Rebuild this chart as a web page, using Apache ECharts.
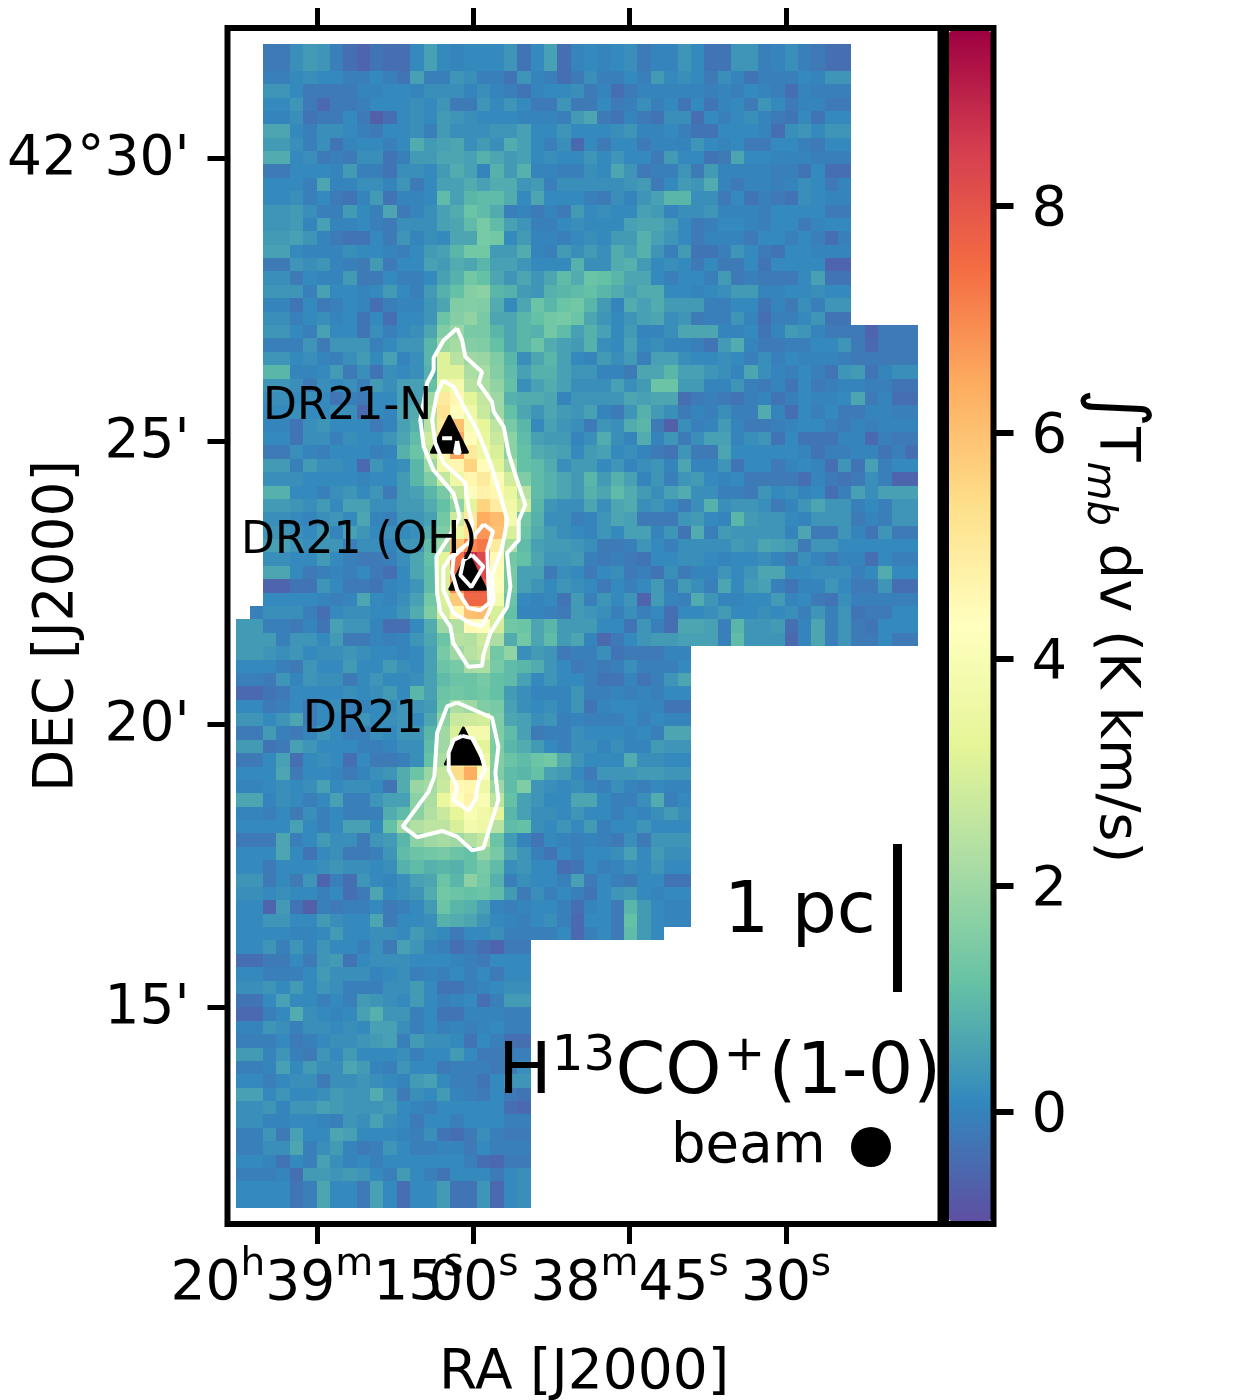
<!DOCTYPE html>
<html>
<head>
<meta charset="utf-8">
<title>H13CO+ map</title>
<script src="https://cdn.jsdelivr.net/npm/echarts@6/dist/echarts.min.js"></script>
<style>
  html, body { margin: 0; background: #fff; }
  #chart { width: 1254px; height: 1400px; }
</style>
</head>
<body>
<div id="chart"></div>
<script>
// integrated intensity, K km/s, read by eye from the map. one list per map row, north to south
const row00 = [-.2,-.2,.2,.4,.3,-.1,-.4,-.6,-.3,-.4, -.4,.1,.5,.1,0,.1,.1,.1,.3,-.3, .1,.5,-.4,0,.1,0,.1,.2,-.2,0, 0,.3,.1,-.3,-.3,.3,.3,-.1,0,.2, -.1,-.2,-.4,-.4];
const row01 = [-.2,-.2,.2,.4,.3,-.1,-.4,-.6,-.3,-.4, -.4,.1,.5,.1,0,.1,.1,.1,.3,-.3, .1,.5,-.4,0,.1,0,.1,.2,-.2,0, 0,.3,.1,-.3,-.3,.3,.3,-.1,0,.2, -.1,-.2,-.4,-.4];
const row02 = [-.1,-.1,.1,.2,.1,.1,-.1,-.1,.1,-.1, -.3,.5,-.1,-.1,.3,.2,-.1,-.1,-.3,.3, 0,-.1,-.4,-.2,.2,-.1,-.1,.1,-.1,.4, .1,.2,.1,-.2,.2,0,-.3,-.1,-.1,-.1, .1,0,.3,.3];
const row03 = [.3,.3,.1,-.2,-.2,-.2,-.2,0,0,.1, .1,0,.2,.2,.2,0,.2,0,-.1,-.3, 0,.1,.1,.2,-.2,0,-.4,-.2,0,0, 0,0,0,-.1,0,-.1,.1,0,-.1,-.4, 0,-.1,-.1,-.1];
const row04 = [.1,.1,.3,-.2,-.5,-.2,-.2,-.1,.1,.1, .1,.2,.1,.3,-.2,-.2,.3,.1,.3,.1, -.2,-.2,.3,-.2,-.2,.1,-.2,-.1,.2,-.1, .1,-.3,.1,-.3,0,.1,-.2,.3,.1,-.2, 0,0,-.2,-.2];
const row05 = [0,0,.2,-.3,-.2,-.2,.1,-.2,-.7,-.4, .1,.2,.1,.4,.3,.2,.1,.1,.1,0, 0,0,-.1,.4,.6,-.2,-.3,0,-.2,-.3, .2,.2,-.4,.1,-.1,.1,.2,0,-.2,-.3, .1,-.3,.1,.1];
const row06 = [.6,.6,.1,-.1,.2,.2,.1,-.1,-.2,.1, .1,.2,-.1,.4,.2,.2,.2,.3,.3,.5, .1,.1,.3,.1,.1,.1,.2,.3,0,0, .1,-.1,-.3,-.3,.1,.1,.1,0,-.4,.2, .3,.1,.3,.3];
const row07 = [.4,.4,.2,-.1,.2,-.3,0,.1,.1,-.1, .1,.7,.4,.5,.6,.2,.4,.2,.7,.5, .1,-.1,.2,-.5,.1,-.2,.1,.1,-.2,0, 0,0,.3,.1,0,.1,-.2,-.2,.1,.1, -.1,-.2,.1,.1];
const row08 = [.7,.7,.1,.2,-.2,-.1,-.2,.2,.2,-.3, -.1,.4,.4,.6,.6,.5,.8,.6,.4,.5, .1,.2,.1,.1,.3,.1,.3,.1,.1,-.2, .4,.1,.1,-.3,-.2,.6,.1,.1,0,0, 0,-.1,-.1,-.1];
const row09 = [-.2,-.2,.1,.1,.1,0,.4,-.1,-.1,-.3, .2,.2,.1,.4,.7,.5,0,.8,.4,.8, 0,0,-.1,-.1,.2,.1,.6,.3,-.2,-.1, -.1,.3,-.2,.4,0,0,0,0,-.1,-.1, -.3,.1,-.4,-.4];
const row10 = [.1,.1,.1,-.1,.6,0,0,.2,.2,0, .3,-.2,.1,.5,.5,.7,.5,.7,.7,.3, .4,-.1,.2,.2,.2,.2,.2,.3,.4,-.2, .1,.4,.3,.7,0,-.2,0,0,-.1,0, .2,.1,-.2,0];
const row11 = [.1,.1,.2,-.1,.1,-.2,-.3,0,.4,-.3, 0,0,.1,1,.5,.9,1,1,.7,.1, .6,.1,.1,.1,-.1,-.2,.2,0,.3,.5, .9,.9,.2,.2,-.2,.1,-.3,-.1,-.2,-.3, .2,.1,0,0];
const row12 = [.3,.3,.4,.2,-.1,-.1,.4,.1,-.1,.6, -.2,0,.2,.5,.7,1.2,1,.7,-.1,0, -.2,0,-.2,.4,.1,.2,.1,.1,.5,.4, 0,.2,.2,.3,0,0,0,-.1,.1,.1, .1,.1,-.2,-.2];
const row13 = [.3,.3,.4,0,.5,0,0,.1,-.1,-.2, .2,.2,.2,.5,.6,1,1.4,1,.5,.3, -.1,-.1,.1,.2,.1,.1,.1,.5,.6,.6, .4,.1,-.2,-.1,.1,.1,0,-.1,.1,.1, -.2,0,.1,.1];
const row14 = [.4,.4,.5,.3,0,-.2,-.3,-.3,.1,-.2, .3,0,.2,.1,.6,.6,1.4,1.3,.1,.4, 0,0,-.1,.1,.2,.1,.4,.4,.8,.5, .3,.1,-.2,0,0,0,-.2,.1,.1,-.1, .1,-.1,-.4,-.1];
const row15 = [.5,.5,.1,0,0,0,.2,.1,.1,0, -.1,.1,.4,.5,.9,1.3,1.3,.4,.4,.7, 0,-.1,.4,.2,.4,.2,.7,.5,.8,.3, -.1,.4,-.3,-.3,-.1,.3,.1,-.2,-.3,.1, .1,0,0,0];
const row16 = [-.2,-.2,.3,.2,.3,0,-.1,-.2,.4,-.2, .1,.1,.5,.4,.7,.6,.9,.5,.5,.3, .1,.1,.1,.8,.2,.2,.7,.8,.4,.1, .2,.1,-.2,.1,-.2,-.2,.1,-.3,.1,.1, .1,.1,-.6,-.6];
const row17 = [.2,.2,-.2,.1,0,0,.4,-.2,-.2,.1, -.1,-.1,.1,.5,.8,1.3,1.1,.6,.3,.6, .3,.6,1,.7,1.2,1.1,.9,.6,.6,.1, -.1,.1,.1,-.1,.4,-.2,-.1,-.2,-.2,-.2, .1,.5,-.3,-.3];
const row18 = [.3,.3,.3,-.1,.5,.1,.1,0,.1,.4, .1,-.1,.4,.8,1.1,1.6,1.7,.9,.8,.4, .3,.8,.9,1,1.1,.9,.7,.5,.7,.7, .1,.1,0,.1,.2,.4,.4,0,0,.1, .1,.2,.1,.1];
const row19 = [0,0,-.3,.1,-.2,-.1,.1,0,-.4,-.1, 0,0,.3,.6,1.5,1.6,1.5,.7,.1,.6, 1.2,.9,1.2,1.3,.9,.4,0,.7,.5,.7, .4,.4,.4,-.1,-.1,.1,.1,-.3,0,-.2, .2,-.1,.3,.3];
const row20 = [.2,.2,-.1,.1,.2,0,.1,-.3,.1,-.4, .1,.1,.3,1.2,1.6,1.8,1.4,.6,.6,.9, 1.1,1.3,1.4,1.2,.6,.3,.1,.3,.5,.6, .2,.3,-.2,-.1,-.1,.3,0,-.4,-.1,-.1, .1,.3,-.3,-.3];
const row21 = [.3,.3,.1,-.1,.5,.1,.1,-.3,.2,-.1, .1,.2,.6,1.5,1.9,1.4,1.4,.9,.6,.9, .8,1.3,1,.5,.8,.5,.1,.4,0,0, .2,.6,.6,.6,0,0,.1,-.3,0,.4, .3,0,-.2,-.2, -.2,-.6,-.2,-.2,-.2];
const row22 = [-.1,-.1,-.1,.3,-.2,.3,.3,.3,-.1,.1, .3,.3,.9,1.9,2.1,1.6,1.5,1.1,.6,.9, 1.2,.7,.5,.4,.8,.2,.1,.5,.1,.2, 0,0,-.1,-.3,.4,.7,0,-.2,-.2,-.1, -.1,.1,.1,.3,-.2,-.5,-.2,-.2,-.2];
const row23 = [.3,.3,.1,.2,0,-.1,.2,.4,.1,.5, 0,.2,.9,3.1,2.4,2,1.9,1.5,.9,.2, .6,.9,.5,.1,0,.4,.2,.4,-.1,.5, .5,.2,.1,.1,.2,.1,-.1,.2,-.1,.1, 0,0,0,-.1,-.2,-.2,-.2,-.2,-.2];
const row24 = [.9,.9,0,0,.1,.4,-.2,.2,-.3,.2, .1,.2,.8,3.1,3.1,2.2,2.1,1.6,1,.5, .8,.8,.5,.3,.3,0,0,-.2,.6,.6, .9,.5,.5,.3,.2,0,.6,.2,0,-.1, .1,-.1,-.3,.3,.4,-.3,0,.2,.2];
const row25 = [.3,.3,.2,-.2,.2,.1,.2,-.1,.4,.2, .5,.5,1.1,3.4,3.8,2.4,2.2,1.8,1.1,.2, .5,.7,.5,.2,.2,.2,.5,.2,.4,1.2, 1.2,.4,.4,0,0,.3,-.1,-.2,0,-.3, .1,-.2,-.1,0,0,-.1,-.1,-.3,-.3];
const row26 = [.2,.2,.1,.2,.1,-.3,-.1,-.2,.1,.1, .5,.5,2,5,4.6,3.2,2.6,2,.8,.7, .7,.6,0,.3,.3,.3,.3,.6,.5,.6, .6,-.4,-.2,-.1,-.2,-.3,-.1,0,-.3,-.1, .1,0,0,.1,.6,-.2,0,-.4,-.4];
const row27 = [.1,.1,.2,.1,.1,.2,.2,-.5,.1,0, .6,.7,2.2,5.2,4.2,3.6,2.7,2,1.1,.6, .3,.6,.4,.3,.5,0,-.2,.3,.8,.4, .2,-.2,0,-.1,.2,-.1,-.1,.7,0,-.4, .1,-.1,.1,-.2,-.2,0,0,-.1,-.1];
const row28 = [0,0,-.3,.2,.3,.1,.1,.1,-.2,0, .5,.8,2.4,5,6,3.9,3.3,2.5,1.4,.9, .1,.5,.3,.2,-.2,.3,.2,.7,.9,-.2, -.7,.2,-.1,0,.4,0,-.2,-.2,-.1,0, .1,.1,-.1,-.2,0,-.1,0,0,0];
const row29 = [.1,.1,-.3,.2,.2,-.1,.2,.1,.1,.3, .6,1,2.8,5.4,6.5,4.4,3.4,2.7,1.7,1, .5,.4,.4,0,.2,.7,.2,0,.7,0, .3,-.2,.2,.5,.5,0,.2,.3,-.3,.1, -.3,-.3,-.3,0,0,-.5,-.1,-.2,-.2];
const row30 = [-.2,-.2,.2,0,-.1,.1,.1,.1,-.1,0, .8,1.2,2.6,4.6,6.6,5,3.6,3,1.7,1.1, .7,.6,.5,.1,.4,.5,.1,.2,0,-.2, -.3,.3,-.2,-.2,.6,.1,.1,.1,.1,.1, 0,-.3,-.1,-.1,0,0,-.3,-.1,-.4];
const row31 = [.4,.4,-.1,.4,.2,.2,.1,-.5,.3,.1, .2,.9,2,3.7,4.6,5.6,4.4,3.2,2.2,1.1, 1,.7,.2,.4,.4,.1,.3,0,.2,.3, 0,.6,0,0,.3,-.3,.1,.1,-.2,0, .1,0,-.4,.3,-.3,.5,-.1,.1,.1];
const row32 = [.2,.2,.2,.1,.1,.1,.1,0,.1,.1, .4,.9,1.5,2.6,3.6,4.6,5,4,2.9,1.5, 1,.8,.6,.4,.9,.4,.8,.5,0,.3, -.1,.3,.4,.1,0,.1,-.2,-.2,-.2,-.2, -.4,0,-.2,-.3,-.2,.2,-.1,-.6,-.6];
const row33 = [.8,.8,.1,.1,-.1,.2,.3,.1,.3,-.2, .4,.5,.9,1.4,2.6,4.1,4.7,4.6,3.4,2.4, 1,.8,.6,.4,.8,.6,1,.7,.4,.2, .5,.7,.2,.2,-.1,-.1,-.2,.3,.1,.2, 0,.1,-.4,-.1,.5,.2,.5,.5,.5];
const row34 = [.4,.4,.3,.2,.4,.1,.5,.5,.2,.2, .4,.4,.7,1.1,1.8,3.2,5.6,4.9,3.7,2.8, .9,.3,.2,.2,.6,.2,.6,.7,.2,.3, .1,-.2,.2,.8,.2,.3,.3,.2,-.2,0, .3,.6,.3,.3,-.1,.1,-.1,.3,.3];
const row35 = [.2,.2,.1,0,.2,.3,.1,.6,0,-.1, .3,.3,.5,1.3,2.8,5,6.4,6.1,3.8,1.3, .8,.2,.2,-.1,0,.3,.6,.5,-.2,-.2, -.2,.3,.4,.1,0,.9,.4,.3,.3,.1, 0,.3,.3,.3,-.2,0,-.1,.3,.3];
const row36 = [.3,.3,.2,.1,.4,0,.5,.3,.1,.2, .1,.2,.7,1.5,3.5,5.2,6.8,6,3,1.2, .7,.4,.2,.1,.0,.3,.1,.5,.5,0, .3,-.3,.7,-.1,.4,.3,.3,.3,.3,0, .6,-.2,-.2,.3,0,-.3,.3,-.2,-.2];
const row37 = [.5,.5,.3,.2,.3,.3,-.1,.2,.2,0, .3,.3,1,2,6,7,7.3,5,2.2,1, .5,.4,.4,.3,.2,-.2,-.2,-.1,.3,.1, -.1,.2,.2,.2,.2,.4,.3,.6,.5,.4, -.2,.3,.3,.1,.1,.1,.1,.1,.1];
const row38 = [.2,.2,.1,.1,.4,.1,-.1,-.2,-.2,-.1, .2,.6,1.1,3.2,7.4,8.8,8.3,4.5,1.3,1.1, .6,.3,.3,.4,-.1,-.2,-.1,-.2,-.3,.1, .1,.2,.2,.1,0,.1,.1,.2,0,-.2, .2,0,-.2,0,0,-.4,.1,-.1,-.1];
const row39 = [.6,.6,.1,-.2,-.1,0,-.1,.1,-.2,-.4, .1,.6,1,3,7.5,8,8.3,4.4,1.4,.5, .5,-.2,.2,.1,-.2,.1,.2,-.2,-.1,-.3, .2,-.2,0,0,.3,.1,.3,.6,.6,.1, .1,.2,.2,.2,-.1,.1,.7,.1,.1];
const row40 = [-.6,-.6,-.3,-.3,.3,.1,-.2,-.2,-.3,0, .1,.3,1,3,7,7.8,7.8,4.2,1.4,.5, .3,.1,.3,.2,.1,-.2,.1,-.1,.1,.4, -.1,.4,.2,-.1,.6,.1,.4,.5,-.1,-.3, 0,0,.3,.1,-.2,-.2,.3,-.4,-.4];
const row41 = [.1,.1,.1,.1,0,-.1,0,.6,.1,0, .2,.5,1.3,3,5.8,7.6,7.6,3.8,1.2,.1, 0,.1,-.3,.4,-.1,.3,.1,.3,-.6,.4, 0,-.1,.7,.3,0,0,.1,.1,.4,0, .1,-.2,-.3,.2,-.1,-.1,-.1,-.1,-.1];
const row42 = [-.1,.2,.2,.2,-.1,-.4,.1,.2,.2,.1, .1,.3,.7,1.5,2.9,4.6,6,6.1,3,1.1, 0,0,-.1,-.2,.4,.3,.2,-.1,.2,-.1, .1,-.4,.1,.1,.2,.4,.1,.1,.2,.1, .2,-.1,.3,-.1,.3,-.3,-.2,-.2,.1,.1];
const row43 = [.4,.4,-.1,-.1,-.2,0,-.3,.5,.3,.3, 0,-.4,-.4,.1,.7,2,2.3,4.5,4.2,2.9, 1.3,1.2,.6,.9,.4,.4,.4,.1,.1,-.3, .3,-.1,-.4,.6,.6,.5,-.1,.9,.3,.3, .4,-.4,0,.6,-.1,.3,-.2,-.3,.1,.1, .1];
const row44 = [.4,.4,.4,-.1,.3,.3,.1,.4,-.2,-.2, 0,-.1,0,.3,.6,1.2,2.4,2.3,2.8,2.2, .7,1.3,.6,1,.4,.6,0,-.5,-.2,.1, .3,.4,.4,.5,.5,.5,-.1,1,.3,.3, .3,-.5,0,.6,-.1,.3,-.2,-.2,.1,-.2, -.2];
const row45 = [.4,.4,.3,.2,.3,.1,.2,.2,.3,.2, .1,.1,0,.1,.5,1.4,2,2.4,2.6,1.3, 1.8,.2,.4,.3,-.2,-.1,-.1,.2,-.3,-.2, -.2,-.2,0,0];
const row46 = [.1,.1,.1,-.1,-.2,.3,.1,.1,.4,.1, .1,.4,.2,.1,.5,1.2,1.4,2.1,2.2,1.4, 1,.9,.7,.3,.1,-.2,-.1,-.2,-.1,.2, -.1,-.1,-.1,.1];
const row47 = [-.1,-.1,-.2,.3,0,.3,.2,.2,-.2,.1, .3,.1,.1,.2,.5,1,1.2,1.2,1.4,1.1, 1,.5,.1,.3,.1,.1,-.1,-.3,-.3,0, -.3,-.1,.3,.6];
const row48 = [-.5,-.5,-.3,-.2,.1,.1,.1,.1,.2,.1, .2,.4,.1,.9,.5,1.2,1.3,1.2,1.3,1.1, .4,.2,0,0,0,.3,-.1,-.1,0,-.1, 0,-.1,.1,.1];
const row49 = [.1,.1,-.2,-.1,.1,-.2,.1,.2,-.1,0, .1,.1,.3,.3,.4,1.3,2.2,2,1.5,1.4, .5,.2,.1,.2,0,.3,-.3,0,.1,.1, 0,0,-.3,-.3];
const row50 = [.3,.3,.1,.3,.6,-.2,.1,.1,0,.3, .1,.2,.3,.1,.6,1.7,2.7,2.8,2.9,1.5, .6,.5,.2,.3,-.1,0,-.1,-.1,-.1,.1, -.1,.1,0,0];
const row51 = [-.2,-.2,.4,-.1,-.2,0,.3,.1,-.1,-.1, .2,.1,.3,.3,.9,2,3,3.8,3.8,1.5, 1,.5,-.2,-.1,-.1,.2,.1,.1,.1,0, .1,-.1,.6,.6];
const row52 = [.4,.4,-.3,-.2,.5,.3,.1,.1,.1,-.1, -.1,0,.2,.2,1,2,4,4.2,3.2,1.5, .9,.7,.4,.1,-.1,.2,.2,0,.2,0, 0,.4,.3,.3];
const row53 = [-.2,-.2,.1,.5,-.4,.1,.2,.1,-.4,.1, -.2,-.2,-.1,.2,1.1,2.2,5,5.5,3.5,1.6, 1.2,1,1.2,1.3,.7,.3,.1,.1,.1,.7, .2,.2,.1,.1];
const row54 = [.1,.1,.1,.6,-.2,.1,.1,0,-.2,0, .2,.3,.7,1.2,1.9,2.6,5.4,6.4,4.2,1.5, 1,.9,1.1,.5,.4,.1,-.2,.3,.3,.3, .4,.4,.3,.3];
const row55 = [0,0,.1,.2,.1,.2,.5,.1,.2,.2, .1,-.3,.7,1.9,2.1,2.7,4.5,4.6,3.6,2, 1,1.5,.3,.2,.1,.2,0,-.1,.2,0, -.1,.1,0,0];
const row56 = [.6,.6,0,.2,.1,-.1,.1,.5,-.1,-.1, .3,.5,.5,1.7,2.2,3.4,4.2,4.7,4,2.5, 1.1,.5,.3,.1,.1,.6,.6,.1,-.1,-.1, .2,.7,-.1,.1];
const row57 = [0,0,-.1,.1,-.2,.2,-.1,.1,-.1,-.1, -.1,.7,1,1.7,2.3,2.7,3.3,4,3.7,3.2, .9,.5,.2,.2,.1,.3,.1,.1,-.1,.1, 0,.2,.4,.2];
const row58 = [.1,.1,.1,.1,.5,.1,-.1,.1,.5,.5, .1,1.1,2,2.3,2.5,2.5,3,3.8,3.6,2.4, 1,1.1,.2,.1,.3,.1,.4,-.1,.1,.1, .3,.1,.1,.1];
const row59 = [-.2,-.2,-.2,.6,-.1,.1,.4,.2,.2,-.2, .3,.4,.9,1.7,2,2.1,2,2.3,2.6,1.2, .4,0,-.3,.1,0,-.1,0,-.1,-.2,.2, -.2,.3,.3,.3];
const row60 = [.1,.1,.1,.6,.1,-.3,.1,.2,-.2,-.2, -.1,.3,1,1.2,1.3,1.4,1.2,1.1,1.8,1.4, .6,.3,-.1,-.3,.1,-.1,.1,.1,.2,.5, .1,.4,.2,.2];
const row61 = [.1,.1,-.2,.1,.1,.1,.2,.3,.2,.2, .1,.2,.8,1,.8,.9,.8,1.1,1.4,1, .2,.3,.1,.1,-.4,-.3,.1,-.1,0,.2, .1,.3,.1,.1];
const row62 = [.3,.3,-.2,.1,-.2,.3,-.6,-.1,-.4,.3, .1,0,.2,.5,.6,1.2,.9,1.7,1.3,.8, -.1,.2,.1,.1,-.1,.5,-.2,.1,-.1,-.2, .1,.1,-.3,-.3];
const row63 = [.2,.2,.1,.2,.1,.1,-.1,.1,-.4,-.2, .6,.1,.2,.3,.7,1.3,1.2,1.1,1.2,1, .4,-.2,.2,-.1,.1,-.1,-.3,.1,.3,.4, .1,0,.1,.1];
const row64 = [.1,.1,-.6,.4,-.3,-.7,-.1,-.2,-.1,-.1, .1,-.2,-.1,.1,.4,1.2,.9,.8,.5,0, -.1,0,.1,.1,-.1,-.4,0,.1,-.2,.9, .4,.1,0,0];
const row65 = [.1,.1,.3,.3,.1,.1,.4,.2,.1,.1, .6,-.2,.1,.1,.2,.8,.7,.6,.3,.1, 0,-.1,.1,.2,-.1,-.5,.1,.1,-.2,1.1, .4,.1,0,0];
const row66 = [.1,.1,.1,.1,0,0,.1,.4,.1,.1, .2,.2,.1,.4,.2,.1,-.2,.1,.1,.2, -.1,-.1,-.1,-.1,.1,-.5,-.1,.1,-.2,1, .4,.1];
const row67 = [.1,.1,.3,-.1,.3,0,.3,.1,.1,-.1, .2,-.2,.5,.3,0,-.1,-.4,-.2,-.4,-.6, -.2,-.2];
const row68 = [-.4,-.4,-.2,-.2,.1,-.2,.3,.4,-.3,.1, .2,.2,.2,.1,.1,.1,0,-.1,-.2,.1, .1,.1];
const row69 = [.1,.1,-.1,-.1,-.1,.1,.4,.2,.2,.2, 0,.1,.2,-.1,0,-.1,.1,-.1,.1,-.2, .1,.1];
const row70 = [.2,.2,.3,.1,.4,.1,.3,.2,-.1,-.1, -.1,.2,.2,.4,.1,-.3,-.3,-.1,0,.1, .2,.2];
const row71 = [-.3,-.3,.1,.5,.1,.1,-.1,.1,-.1,.4, .3,.2,.1,.4,.1,-.1,0,.1,-.4,-.1, .4,.4];
const row72 = [-.5,-.5,-.1,.1,.7,.2,.1,0,.1,.5, .8,.3,.3,-.1,.1,-.3,-.3,0,0,0, -.1,-.1];
const row73 = [0,0,.3,.2,-.1,.2,.2,.1,.2,.1, .5,.5,.2,-.1,.1,-.1,0,-.1,0,.1, -.1,-.1];
const row74 = [-.1,-.1,-.1,.1,-.2,-.1,.1,.2,.2,.3, .4,.5,-.1,.4,.2,.2,.1,-.3,.1,-.1, -.4,-.4];
const row75 = [.4,.4,0,.3,-.1,-.2,.3,.1,.4,.1, .1,.1,.2,-.1,.1,.1,.4,.1,-.2,-.2, -.1,-.1];
const row76 = [-.1,-.1,0,.5,.1,.4,.2,.2,.6,.4, 0,-.1,.3,.1,.1,-.2,-.1,-.1,-.1,-.2, -.2,.2];
const row77 = [.1,.1,-.1,.1,.2,.2,-.2,.2,.2,.3, .2,.1,0,.4,.5,.1,-.1,-.1,-.3,.1, .3,.3];
const row78 = [.5,.5,.1,.3,.1,.1,.2,.4,.3,.3, .7,.3,-.2,.2,.1,.4,0,-.1,-.2,.1, -.2,-.3];
const row79 = [.2,.2,.3,0,.3,.3,.5,.4,.3,.3, .3,.4,.1,0,-.1,.1,.1,.1,.1,.1, -.4,-.5];
const row80 = [.2,.2,0,0,.1,.1,0,-.1,.3,.2, .5,.2,.1,-.2,.1,.1,-.1,.1,.1,.1, -.1,-.1];
const row81 = [-.1,-.1,.3,-.2,.5,.1,.1,.6,.5,.1, .1,.1,0,-.1,.2,-.3,-.4,-.2,.2,-.1, -.2,-.2];
const row82 = [-.1,-.1,.2,.2,.6,-.1,.2,.4,0,-.2, -.1,.3,.1,-.1,-.1,0,0,-.2,.1,-.1, -.1,-.1];
const row83 = [.1,.1,0,-.3,.1,-.1,.5,.2,0,.1, -.1,.1,.1,.1,.1,.1,.1,-.1,-.4,-.5, -.2,-.2];
const row84 = [-.1,-.1,-.1,0,-.4,.4,.4,.3,.4,.3, .1,-.1,.4,.1,-.1,-.3,.1,.1,.1,-.2, .1,.2];
const row85 = [.1,.1,.1,.1,-.3,-.1,.6,.1,.1,-.2, .5,.1,-.4,.1,.1,.4,-.3,-.3,.3,-.5, .1,.2];
const row86 = [.1,.1,.1,.1,-.3,-.1,.6,.1,.1,-.2, .5,.1,-.4,.1,.1,.4,-.3,-.3,.3,-.5, .1,.2];

const mapRows = [row00,row01,row02,row03,row04,row05,row06,row07,row08,row09,
  row10,row11,row12,row13,row14,row15,row16,row17,row18,row19,
  row20,row21,row22,row23,row24,row25,row26,row27,row28,row29,
  row30,row31,row32,row33,row34,row35,row36,row37,row38,row39,
  row40,row41,row42,row43,row44,row45,row46,row47,row48,row49,
  row50,row51,row52,row53,row54,row55,row56,row57,row58,row59,
  row60,row61,row62,row63,row64,row65,row66,row67,row68,row69,
  row70,row71,row72,row73,row74,row75,row76,row77,row78,row79,
  row80,row81,row82,row83,row84,row85,row86];

// map pixel grid in sky units: RA seconds after 20h38m, DEC arcmin after 42 deg
const raEast = 82.74, raStep = 1.2829;
const decNorth = 32.014, decStep = 0.2364;

// contours as [RA s, DEC arcmin]
const contourNorthOuter = [[61.56,26.99],[61.08,26.78],[60.77,26.49],[59.17,26.22],[59.49,26.02],[58.21,25.69],[58.05,25.52],[57.09,25.25],[56.61,24.78],[55.97,24.40],[55.01,23.87],[55.65,23.60],[55.65,23.25],[56.77,23.02],[56.45,22.43],[56.77,22.07],[57.25,21.93],[58.37,21.61],[59.04,21.22],[59.17,21.03],[60.48,21.01],[61.92,21.43],[62.21,21.72],[63.17,21.98],[63.48,22.31],[63.55,22.96],[62.21,23.34],[61.31,23.66],[61.73,23.96],[61.92,24.08],[63.84,24.49],[64.77,24.90],[65.09,25.37],[64.44,26.02],[63.81,26.25],[63.81,26.47],[62.85,26.78]];
const contourNorthMid = [[62.91,26.07],[61.89,25.96],[60.93,25.61],[59.64,25.19],[58.37,24.61],[57.70,24.22],[56.74,23.60],[57.25,23.11],[58.21,22.63],[58.05,22.19],[58.56,21.96],[59.17,21.73],[60.29,21.78],[61.92,21.96],[62.88,22.37],[62.88,22.76],[62.21,22.95],[60.29,23.22],[60.12,23.55],[60.48,23.83],[60.77,24.26],[62.85,24.61],[63.65,24.96],[63.96,25.37],[63.48,25.85]];
const contourOhInner = [[59.01,23.53],[58.11,23.40],[58.66,23.07],[58.56,22.49],[58.46,22.14],[59.33,22.01],[60.48,22.05],[61.56,22.37],[62.04,22.67],[61.89,22.96],[60.48,23.20]];
const contourOhPeak = [[60.12,22.99],[59.04,22.78],[60.19,22.42],[61.25,22.63],[60.93,22.90]];
const contourNorthDash = [[63.0,25.05],[62.04,25.05]];
const contourNorthSliver = [[61.56,25.0],[61.31,24.79],[61.76,24.79]];
const contourSouthOuter = [[61.56,20.38],[58.21,20.11],[57.60,19.60],[57.89,19.13],[57.60,18.66],[59.04,17.81],[60.12,17.77],[61.56,18.01],[63.0,18.11],[65.40,18.0],[66.78,18.19],[64.32,18.80],[63.74,19.07],[63.48,19.84],[62.52,20.31]];
const contourSouthInner = [[61.08,19.79],[60.12,19.75],[59.33,19.51],[58.85,19.19],[59.52,18.98],[59.81,18.66],[60.48,18.47],[61.89,18.66],[61.56,18.89],[62.37,19.19],[62.37,19.49],[61.89,19.72]];
const contours = [contourNorthOuter, contourNorthMid, contourOhInner, contourOhPeak, contourNorthDash, contourNorthSliver, contourSouthOuter, contourSouthInner];

const sources = [[62.30,25.12],[60.53,22.70],[60.96,19.61]];

const raTicks = [75, 60, 45, 30];
const raTickLabels = ['{n|20}{s|h}{n|39}{s|m}{n|15}{s|s}', '{n|00}{s|s}', '{n|38}{s|m}{n|45}{s|s}', '{n|30}{s|s}'];
const decTicks = [30, 25, 20, 15];
const decTickLabels = ["42°30'", "25'", "20'", "15'"];
const colorTicks = [0, 2, 4, 6, 8];
const spectral = ['#5e4fa2','#3288bd','#66c2a5','#abdda4','#e6f598','#ffffbf','#fee08b','#fdae61','#f46d43','#d53e4f','#9e0142'];

const FONT = '"DejaVu Sans"';

function firstCol(r) {
  if (r < 42) return 2;
  return r === 42 ? 1 : 0;
}

const cells = [];
mapRows.forEach((values, r) => {
  values.forEach((v, i) => {
    const c = firstCol(r) + i;
    cells.push([raEast - raStep * c, decNorth - decStep * r, v]);
  });
});

function renderCell(params, api) {
  const a = api.coord([api.value(0), api.value(1)]);
  const b = api.coord([api.value(0) - raStep, api.value(1) - decStep]);
  const x = Math.round(a[0]), y = Math.round(a[1]);
  return {
    type: 'rect',
    shape: { x: x, y: y, width: Math.round(b[0]) - x, height: Math.round(b[1]) - y },
    style: { fill: api.visual('color') }
  };
}

const tickStyle = { color: '#000', width: 5 };

// the first RA label overlaps the next one in the original, ECharts would drop one of them on a single axis
function raBottomAxis(values, extra) {
  return Object.assign({
    type: 'value', gridIndex: 0, inverse: true, min: 15.18, max: 83.59, position: 'bottom',
    axisLine: { show: false, onZero: false }, splitLine: { show: false },
    axisTick: { length: 20, lineStyle: tickStyle, customValues: values },
    axisLabel: {
      margin: 21, customValues: values, hideOverlap: false,
      formatter: v => raTickLabels[raTicks.indexOf(v)],
      rich: {
        n: { fontSize: 55, lineHeight: 80, fontFamily: FONT, color: '#000' },
        s: { fontSize: 39, lineHeight: 40, verticalAlign: 'top', fontFamily: FONT, color: '#000' }
      }
    }
  }, extra);
}

const chart = echarts.init(document.getElementById('chart'));
chart.setOption({
  animation: false,
  backgroundColor: '#fff',
  textStyle: { fontFamily: FONT, color: '#000' },
  grid: [
    { left: 227.5, top: 28, width: 713, height: 1196, show: true, borderColor: '#000', borderWidth: 6, outerBoundsMode: 'none' },
    { left: 946, top: 28, width: 47.5, height: 1196, show: true, borderColor: '#000', borderWidth: 6, backgroundColor: 'transparent', outerBoundsMode: 'none', z: 5 }
  ],
  xAxis: [
    raBottomAxis(raTicks.slice(0, 1), {
      name: 'RA [J2000]', nameLocation: 'middle', nameGap: 122, nameMoveOverlap: false,
      nameTextStyle: { fontSize: 55, fontFamily: FONT, color: '#000' }
    }),
    {
      type: 'value', gridIndex: 0, inverse: true, min: 15.18, max: 83.59, position: 'top',
      axisLine: { show: false, onZero: false }, splitLine: { show: false },
      axisTick: { length: 20, lineStyle: tickStyle, customValues: raTicks },
      axisLabel: { show: false }
    },
    {
      type: 'value', gridIndex: 1, min: 0, max: 1, show: false
    },
    raBottomAxis(raTicks.slice(1), {})
  ],
  yAxis: [
    {
      type: 'value', gridIndex: 0, min: 11.166, max: 32.297, position: 'left',
      name: 'DEC [J2000]', nameLocation: 'middle', nameRotate: 90, nameGap: 142, nameMoveOverlap: false,
      nameTextStyle: { fontSize: 55, fontFamily: FONT, color: '#000' },
      axisLine: { show: false, onZero: false }, splitLine: { show: false },
      axisTick: { length: 20, lineStyle: tickStyle, customValues: decTicks },
      axisLabel: {
        margin: 38, fontSize: 55, fontFamily: FONT, color: '#000', customValues: decTicks,
        verticalAlign: 'top', lineHeight: 4,
        formatter: v => decTickLabels[decTicks.indexOf(v)]
      }
    },
    {
      type: 'value', gridIndex: 1, min: -0.99, max: 9.57, position: 'right',
      name: '{i|∫}{n|T}{b|mb}{n| dv (K km/s)}', nameLocation: 'middle', nameRotate: -90, nameGap: 85, nameMoveOverlap: false,
      nameTextStyle: {
        rich: {
          i: { fontSize: 74, fontFamily: FONT, color: '#000' },
          n: { fontSize: 56, fontFamily: FONT, color: '#000' },
          b: { fontSize: 40, fontFamily: FONT, fontStyle: 'italic', color: '#000', verticalAlign: 'bottom', padding: [14, 0, 0, 0] }
        }
      },
      axisLine: { show: false, onZero: false }, splitLine: { show: false },
      axisTick: { length: 20, lineStyle: { color: '#000', width: 6 }, customValues: colorTicks },
      axisLabel: { margin: 38, fontSize: 56, fontFamily: FONT, color: '#000', customValues: colorTicks, verticalAlign: 'top', lineHeight: 10 }
    }
  ],
  visualMap: {
    type: 'continuous', seriesIndex: 0, dimension: 2, min: -0.99, max: 9.57,
    left: 949, top: 31, itemWidth: 42, itemHeight: 1190, padding: 0,
    text: ['', ''], calculable: false, hoverLink: false, showLabel: false,
    inRange: { color: spectral }
  },
  series: [
    {
      type: 'custom', xAxisIndex: 0, yAxisIndex: 0, data: cells, renderItem: renderCell,
      encode: { x: 0, y: 1 }, progressive: 0, silent: true, z: 1
    },
    {
      type: 'scatter', xAxisIndex: 0, yAxisIndex: 0, data: sources, symbol: 'triangle', symbolSize: [36, 36],
      itemStyle: { color: '#000', opacity: 1, borderColor: '#000', borderWidth: 3, borderJoin: 'round' }, silent: true, z: 2
    }
  ].concat(contours.map(path => ({
    type: 'line', xAxisIndex: 0, yAxisIndex: 0, silent: true, z: 3, showSymbol: false, symbol: 'none',
    data: path.concat([path[0]]),
    lineStyle: { color: '#fff', width: 4 }
  }))),
  graphic: [
    { type: 'text', left: 263, top: 386, z: 10, style: { text: 'DR21-N', fontSize: 44, fontFamily: FONT, fill: '#000' } },
    { type: 'text', left: 241, top: 520, z: 10, style: { text: 'DR21 (OH)', fontSize: 44, fontFamily: FONT, fill: '#000' } },
    { type: 'text', left: 303, top: 699, z: 10, style: { text: 'DR21', fontSize: 44, fontFamily: FONT, fill: '#000' } },
    { type: 'text', left: 724, top: 878, z: 10, style: { text: '1 pc', fontSize: 71, fontFamily: FONT, fill: '#000' } },
    { type: 'rect', z: 10, shape: { x: 893, y: 844, width: 9, height: 148 }, style: { fill: '#000' } },
    {
      type: 'text', left: 498, top: 1032, z: 10,
      style: {
        text: '{b|H}{t|13}{b|CO}{p|+}{b|(1-0)}',
        rich: {
          b: { fontSize: 71.5, lineHeight: 84, fontFamily: FONT, fill: '#000' },
          t: { fontSize: 50, lineHeight: 50, verticalAlign: 'top', fontFamily: FONT, fill: '#000' },
          p: { fontSize: 50, lineHeight: 50, verticalAlign: 'top', fontFamily: FONT, fill: '#000', padding: [0, 3, 0, 2] }
        }
      }
    },
    { type: 'text', left: 671, top: 1120, z: 10, style: { text: 'beam', fontSize: 54.5, fontFamily: FONT, fill: '#000' } },
    { type: 'circle', z: 10, shape: { cx: 871, cy: 1147, r: 20 }, style: { fill: '#000' } }
  ]
});
window.addEventListener('resize', () => chart.resize());
</script>
</body>
</html>
